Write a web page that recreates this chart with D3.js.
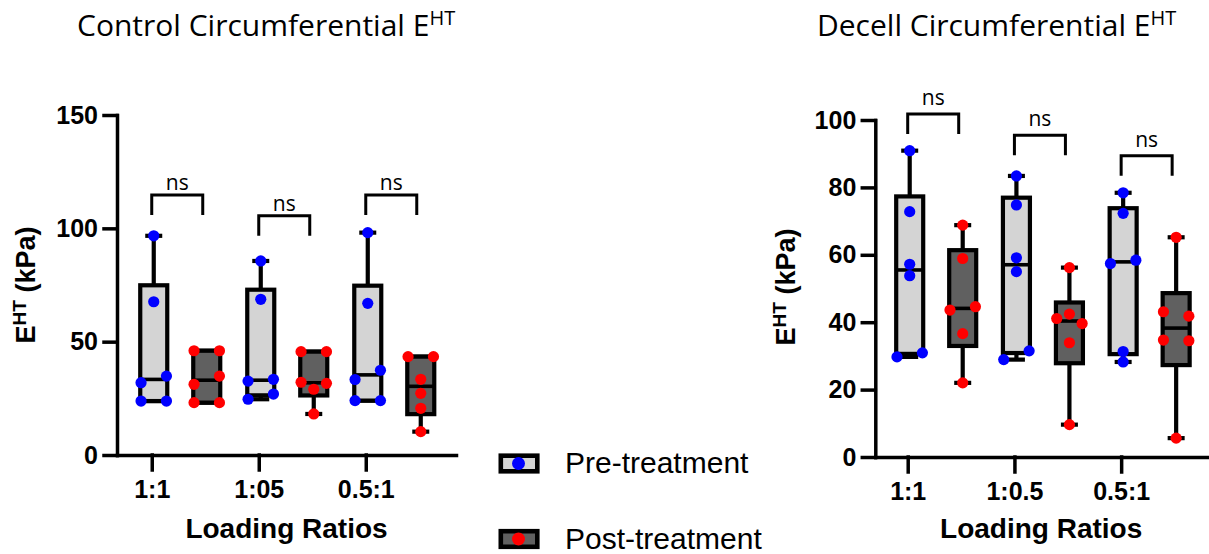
<!DOCTYPE html>
<html>
<head>
<meta charset="utf-8">
<script src="https://cdn.jsdelivr.net/npm/d3@7"></script>
<style>
  html, body { margin: 0; padding: 0; background: #ffffff; }
  svg { display: block; }
</style>
</head>
<body>
<script>
// ---- data -------------------------------------------------------------
// Loading ratios on the x axis of each panel
const controlRatios = ["1:1", "1:05", "0.5:1"];
const decellRatios  = ["1:1", "1:0.5", "0.5:1"];

// E^HT (kPa) per sample. Order inside each list sets left-to-right order when dots overlap.
const controlPre = [
  [96.7, 67.6, 31.9, 34.8, 23.8, 23.8],
  [85.6, 68.7, 32.6, 33.4, 24.6, 26.9],
  [98.1, 66.9, 33.3, 37.4, 24.0, 24.0]
];
const controlPost = [
  [46.0, 46.0, 31.2, 34.8, 23.1, 23.1],
  [45.6, 45.6, 32.1, 29.0, 31.6, 18.1],
  [43.4, 43.4, 33.4, 27.2, 20.6, 10.3]
];
const decellPre = [
  [90.9, 72.8, 57.2, 53.8, 29.7, 30.9],
  [83.4, 74.8, 59.1, 55.0, 28.9, 31.5],
  [78.4, 72.3, 57.4, 58.4, 31.3, 28.2]
];
const decellPost = [
  [68.8, 58.9, 43.6, 44.6, 36.6, 22.0],
  [56.2, 41.1, 42.4, 39.6, 33.9, 9.6],
  [65.2, 43.1, 41.8, 34.7, 34.5, 5.6]
];

// y-axis ticks
const controlTicks = [0, 50, 100, 150];
const decellTicks  = [0, 20, 40, 60, 80, 100];

// significance brackets: level (kPa) and label
const controlBracketLevels = [114.7, 105.6, 114.7];
const decellBracketLevels  = [101.8, 95.5, 89.4];
const controlSig = ["ns", "ns", "ns"];
const decellSig  = ["ns", "ns", "ns"];

const seriesNames = ["Pre-treatment", "Post-treatment"];

// ---- styling ----------------------------------------------------------
const W = 1209, H = 554;
const boxFill = ["#d4d4d4", "#606060"];
const dotFill = ["#0000ff", "#ff0000"];
const tickFont = "'Liberation Sans', Arial, sans-serif";
const titleFont = "'Open Sans', 'Noto Sans', sans-serif";

const svg = d3.select("body").append("svg")
  .attr("width", W).attr("height", H)
  .attr("viewBox", `0 0 ${W} ${H}`);
svg.append("rect").attr("width", W).attr("height", H).attr("fill", "#fff");

// Quartile at fraction p using the (n+1)p rank rule
function quart(sorted, p) {
  const n = sorted.length;
  const pos = p * (n + 1);
  const lo = Math.floor(pos);
  if (lo < 1) return sorted[0];
  if (lo >= n) return sorted[n - 1];
  return sorted[lo - 1] + (pos - lo) * (sorted[lo] - sorted[lo - 1]);
}

// Spread dots that would overlap vertically into side-by-side slots
function dotOffsets(values, y, gap, spread) {
  const idx = values.map((v, i) => i).sort((a, b) => values[a] - values[b]);
  const groups = [];
  let cur = [idx[0]];
  for (let k = 1; k < idx.length; k++) {
    const dy = Math.abs(y(values[idx[k]]) - y(values[idx[k - 1]]));
    if (dy < gap) cur.push(idx[k]); else { groups.push(cur); cur = [idx[k]]; }
  }
  groups.push(cur);
  const off = new Array(values.length).fill(0);
  groups.forEach(g => {
    g.sort((a, b) => a - b);
    const m = g.length;
    g.forEach((id, j) => { off[id] = (j - (m - 1) / 2) * spread * (m === 2 ? 2 : 1); });
  });
  return off;
}

function panel(cfg) {
  const g = svg.append("g");
  const y = d3.scaleLinear().domain([0, cfg.yMax]).range([cfg.yBottom, cfg.yTop]);
  const x = d3.scalePoint().domain(cfg.ratios).range([cfg.x0, cfg.x1])
    .padding(cfg.pad).align(cfg.align);

  // axes
  const ya = g.append("g").attr("transform", `translate(${cfg.x0},0)`)
    .call(d3.axisLeft(y).tickValues(cfg.ticks).tickSize(13).tickSizeOuter(0).tickPadding(6));
  const xa = g.append("g").attr("transform", `translate(0,${cfg.yBottom})`)
    .call(d3.axisBottom(x).tickSize(15).tickSizeOuter(0).tickPadding(10));
  [ya, xa].forEach(a => {
    a.selectAll("path, line").attr("stroke", "#000").attr("stroke-width", 3.5)
      .attr("stroke-linecap", "square");
    a.selectAll("text").attr("fill", "#000").attr("font-family", tickFont)
      .attr("font-weight", "bold").attr("font-size", 25);
  });

  // boxes, whiskers and dots
  const series = [cfg.pre, cfg.post];
  const shift = [2, 55];
  const half = 13.5, cap = 8.5;
  cfg.ratios.forEach((r, i) => {
    series.forEach((set, s) => {
      const vals = set[i];
      const cx = x(r) + shift[s];
      const sorted = vals.slice().sort((a, b) => a - b);
      const q1 = quart(sorted, 0.25), med = quart(sorted, 0.5), q3 = quart(sorted, 0.75);
      const lo = sorted[0], hi = sorted[sorted.length - 1];
      const bg = g.append("g").attr("stroke", "#000").attr("stroke-width", 4.2);
      bg.append("line").attr("x1", cx).attr("x2", cx).attr("y1", y(hi)).attr("y2", y(q3));
      bg.append("line").attr("x1", cx).attr("x2", cx).attr("y1", y(q1)).attr("y2", y(lo));
      bg.append("line").attr("x1", cx - cap).attr("x2", cx + cap).attr("y1", y(hi)).attr("y2", y(hi));
      bg.append("line").attr("x1", cx - cap).attr("x2", cx + cap).attr("y1", y(lo)).attr("y2", y(lo));
      bg.append("rect").attr("x", cx - half).attr("width", half * 2)
        .attr("y", y(q3)).attr("height", y(q1) - y(q3)).attr("fill", boxFill[s]);
      bg.append("line").attr("x1", cx - half).attr("x2", cx + half)
        .attr("y1", y(med)).attr("y2", y(med)).attr("stroke-width", 3.6);

      const off = dotOffsets(vals, y, 10, 12.7);
      g.append("g").selectAll("circle").data(vals).join("circle")
        .attr("cx", (d, k) => cx + off[k]).attr("cy", d => y(d))
        .attr("r", 5.6).attr("fill", dotFill[s]);
    });

    // significance bracket
    const bx0 = x(r), bx1 = x(r) + 51, by = y(cfg.brackets[i]);
    g.append("path")
      .attr("d", `M${bx0},${by + 20}V${by}H${bx1}V${by + 20}`)
      .attr("fill", "none").attr("stroke", "#000").attr("stroke-width", 3);
    g.append("text").attr("x", (bx0 + bx1) / 2).attr("y", by - cfg.sigGap)
      .attr("text-anchor", "middle").attr("font-family", titleFont)
      .attr("font-size", 21).attr("fill", "#000").text(cfg.sig[i]);
  });

  // axis titles
  const yl = g.append("text")
    .attr("transform", `translate(${cfg.yLabelX},${cfg.yLabelY}) rotate(-90)`)
    .attr("text-anchor", "middle").attr("font-family", tickFont)
    .attr("font-weight", "bold").attr("font-size", 27).attr("fill", "#000");
  yl.append("tspan").text("E");
  yl.append("tspan").attr("font-size", 19).attr("dy", -9).text("HT");
  yl.append("tspan").attr("dy", 9).text(" (kPa)");

  g.append("text").attr("x", (cfg.x0 + cfg.x1) / 2).attr("y", 538)
    .attr("text-anchor", "middle").attr("font-family", tickFont)
    .attr("font-weight", "bold").attr("font-size", 28).attr("fill", "#000")
    .text("Loading Ratios");

  // panel title
  const t = g.append("text").attr("x", cfg.titleX).attr("y", 36)
    .attr("font-family", titleFont).attr("font-size", 30).attr("fill", "#000");
  t.append("tspan").text(cfg.title + " E");
  t.append("tspan").attr("font-size", 20).attr("dy", -11).text("HT");
}

panel({
  title: "Control Circumferential", titleX: 77,
  ratios: controlRatios, pre: controlPre, post: controlPost,
  ticks: controlTicks, yMax: 150, brackets: controlBracketLevels, sig: controlSig,
  x0: 117, x1: 456, yTop: 115, yBottom: 455, pad: 0.584, align: 0.278,
  sigGap: 5, yLabelX: 35, yLabelY: 285
});

panel({
  title: "Decell Circumferential", titleX: 817,
  ratios: decellRatios, pre: decellPre, post: decellPost,
  ticks: decellTicks, yMax: 100, brackets: decellBracketLevels, sig: decellSig,
  x0: 875.3, x1: 1207, yTop: 120, yBottom: 457, pad: 0.554, align: 0.274,
  sigGap: 9, yLabelX: 795, yLabelY: 287
});

// legend
const legend = svg.append("g");
seriesNames.forEach((name, s) => {
  const cy = [463.5, 539][s];
  legend.append("rect").attr("x", 500.8).attr("y", cy - 7.8)
    .attr("width", 36.5).attr("height", 15.6)
    .attr("fill", boxFill[s]).attr("stroke", "#000").attr("stroke-width", 4.6);
  legend.append("circle").attr("cx", 518.5).attr("cy", cy).attr("r", 6.5).attr("fill", dotFill[s]);
  legend.append("text").attr("x", 565).attr("y", cy + 9.5)
    .attr("font-family", tickFont).attr("font-size", 30).attr("fill", "#000").text(name);
});
</script>
</body>
</html>
